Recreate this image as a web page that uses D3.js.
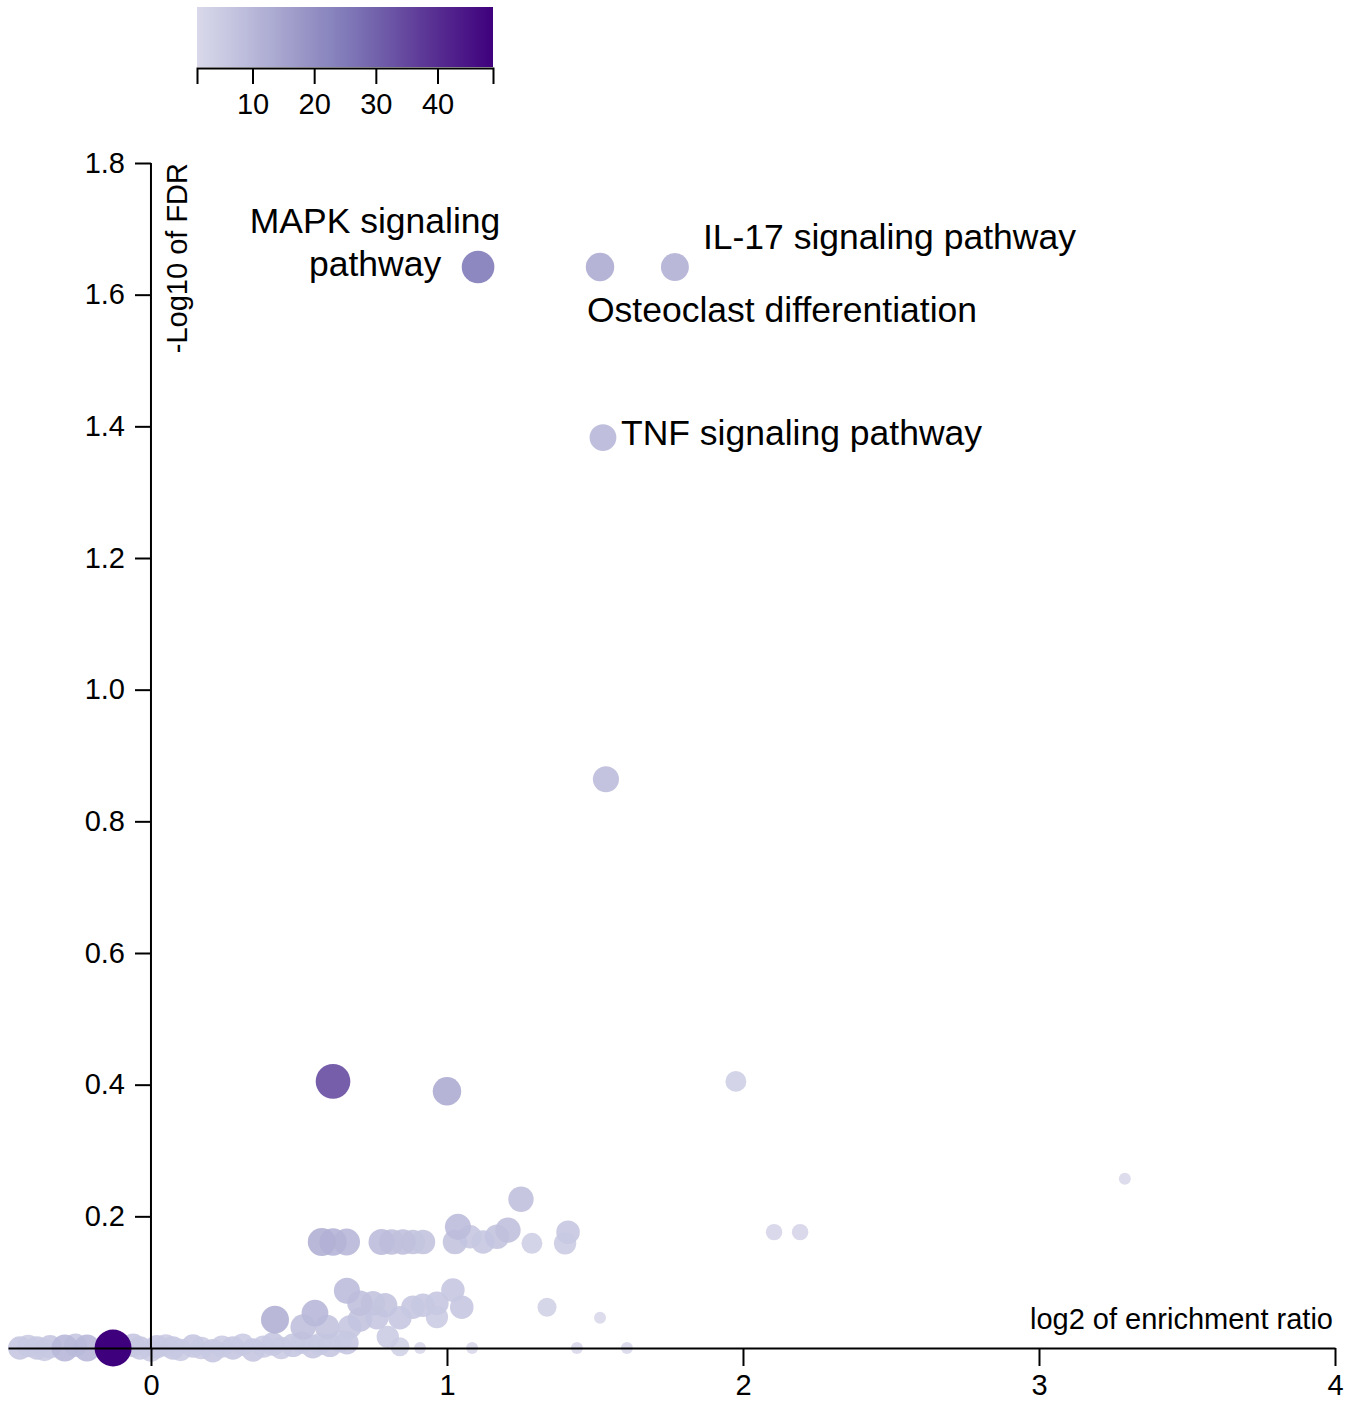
<!DOCTYPE html>
<html>
<head>
<meta charset="utf-8">
<script src="https://cdn.jsdelivr.net/npm/d3@7"></script>
<style>
  body { margin: 0; background: #fff; }
  svg text { font-family: "Liberation Sans", Arial, sans-serif; fill: #000; }
</style>
</head>
<body>
<svg id="chart"></svg>
<script>
// data: x = log2 of enrichment ratio, y = -log10 FDR, size = overlap count
const log2Ratio = [
  1.105, 1.517, 1.770, 1.527,
  1.537, 0.615, 1.000, 1.976, 3.290, 1.250, 2.105, 2.193,
  0.577, 0.615, 0.661, 0.779, 0.813, 0.851, 0.885, 0.919, 1.027, 1.037, 1.078, 1.122, 1.169, 1.206, 1.287, 1.409, 1.399,
  0.419, 0.554, 0.514, 0.595, 0.662, 0.706, 0.750, 0.791, 0.706, 0.763, 0.672, 0.841, 0.885, 0.919, 0.966, 0.966, 1.020, 1.050,
  0.800, 0.841, 0.909, 1.085, 1.338, 1.517, 1.439, 1.608,
  -0.443, -0.415, -0.385, -0.360, -0.341, -0.291, -0.255, -0.216, -0.128, -0.060, -0.037, 0.000, 0.020, 0.050, 0.074, 0.100,
  0.142, 0.170, 0.209, 0.240, 0.277, 0.310, 0.345, 0.380, 0.412, 0.440, 0.480, 0.510, 0.547, 0.570, 0.605, 0.640, 0.662
];
const negLog10FDR = [
  1.642, 1.642, 1.642, 1.383,
  0.864, 0.405, 0.390, 0.405, 0.257, 0.226, 0.176, 0.176,
  0.161, 0.161, 0.161, 0.161, 0.161, 0.161, 0.161, 0.161, 0.161, 0.184, 0.169, 0.161, 0.169, 0.179, 0.159, 0.176, 0.159,
  0.043, 0.053, 0.032, 0.032, 0.087, 0.068, 0.068, 0.065, 0.043, 0.046, 0.032, 0.046, 0.062, 0.065, 0.068, 0.047, 0.088, 0.062,
  0.017, 0.002, 0.000, 0.000, 0.062, 0.046, 0.000, 0.000,
  0.000, 0.003, 0.000, -0.003, 0.002, 0.000, 0.004, 0.000, 0.000, 0.004, 0.000, -0.004, 0.002, 0.004, 0.000, -0.003,
  0.003, 0.000, -0.004, 0.002, 0.000, 0.005, -0.003, 0.002, 0.006, 0.000, 0.004, 0.008, 0.002, 0.006, 0.004, 0.010, 0.008
];
const geneCount = [
  25, 13, 12, 10,
  9, 34, 13, 4, 1, 8, 2, 2,
  12, 11, 10, 9, 8, 8, 7, 7, 7, 9, 6, 6, 7, 8, 4, 6, 5,
  12, 10, 8, 7, 9, 8, 7, 7, 7, 6, 6, 6, 6, 6, 6, 5, 6, 6,
  5, 3, 1, 1, 3, 1, 1, 1,
  6, 5, 6, 5, 6, 10, 6, 10, 49, 6, 6, 5, 6, 5, 6, 5,
  6, 5, 6, 5, 6, 5, 6, 5, 6, 5, 6, 5, 6, 5, 6, 5, 6
];
const pathwayNames = ["MAPK signaling pathway", "Osteoclast differentiation", "IL-17 signaling pathway", "TNF signaling pathway"];
const xTicks = [0, 1, 2, 3, 4];
const yTicks = [0.2, 0.4, 0.6, 0.8, 1.0, 1.2, 1.4, 1.6, 1.8];
const colorTicks = [10, 20, 30, 40];
const countRange = [1, 49];

const W = 1361, H = 1402;
const svg = d3.select("#chart").attr("width", W).attr("height", H);

const x = d3.scaleLinear().domain([-0.483, 4]).range([8, 1335]);
const y = d3.scaleLinear().domain([0, 1.8]).range([1348, 163]);
const color = d3.scaleSequential(t => d3.interpolatePurples(0.25 + 0.75 * t)).domain(countRange);
const radius = d3.scaleLog().domain(countRange).range([6, 18.5]);

// colour legend
const legX = d3.scaleLinear().domain(countRange).range([197, 493]);
const grad = svg.append("defs").append("linearGradient").attr("id", "legGrad");
d3.range(0, 1.0001, 0.05).forEach(t => {
  grad.append("stop").attr("offset", t).attr("stop-color", color(countRange[0] + t * (countRange[1] - countRange[0])));
});
svg.append("rect").attr("x", legX.range()[0]).attr("y", 7)
  .attr("width", legX.range()[1] - legX.range()[0]).attr("height", 60)
  .attr("fill", "url(#legGrad)");
const legAxis = svg.append("g").attr("transform", "translate(0,68)")
  .call(d3.axisBottom(legX).tickValues(colorTicks).tickSize(16).tickSizeOuter(16).tickPadding(9));

// points
const pts = log2Ratio.map((v, i) => ({x: v, y: negLog10FDR[i], n: geneCount[i], i}));
svg.append("g").selectAll("circle")
  .data(pts.slice().sort((a, b) => a.n - b.n))
  .join("circle")
  .attr("cx", d => x(d.x)).attr("cy", d => y(d.y))
  .attr("r", d => radius(d.n))
  .attr("fill", d => color(d.n))
  .attr("fill-opacity", d => d.n > 40 ? 1 : 0.9);

// axes
const xAxis = svg.append("g").attr("transform", `translate(0,${y(0)})`)
  .call(d3.axisBottom(x).tickValues(xTicks).tickSize(18).tickSizeOuter(0).tickPadding(8).tickFormat(d3.format("d")));
const yAxis = svg.append("g").attr("transform", `translate(${x(0)},0)`)
  .call(d3.axisLeft(y).tickValues(yTicks).tickSize(16).tickSizeOuter(0).tickPadding(10).tickFormat(d3.format(".1f")));

[xAxis, yAxis, legAxis].forEach(g => {
  g.selectAll("path, line").attr("stroke", "#000").attr("stroke-width", 2);
  g.selectAll("text").attr("font-size", 29).attr("font-family", "Liberation Sans, Arial, sans-serif").attr("fill", "#000");
});
yAxis.select(".domain").attr("d", `M0,${y(1.8)}V${y(0)}`);

svg.append("text").attr("transform", `translate(187,${y(1.8)}) rotate(-90)`)
  .attr("text-anchor", "end").attr("font-size", 29).text("-Log10 of FDR");
svg.append("text").attr("x", x(4) - 2).attr("y", 1329)
  .attr("text-anchor", "end").attr("font-size", 29).text("log2 of enrichment ratio");

// pathway labels placed next to their points
const labelLayout = [
  {lines: ["MAPK signaling", "pathway"], anchor: "middle", dx: -103, dy: [-34, 9]},
  {lines: ["Osteoclast differentiation"], anchor: "start", dx: -13, dy: [55]},
  {lines: ["IL-17 signaling pathway"], anchor: "start", dx: 28, dy: [-18]},
  {lines: ["TNF signaling pathway"], anchor: "start", dx: 18, dy: [7]}
];
pathwayNames.forEach((name, i) => {
  const L = labelLayout[i];
  const px = x(log2Ratio[i]), py = y(negLog10FDR[i]);
  L.lines.forEach((line, k) => {
    svg.append("text").attr("x", px + L.dx).attr("y", py + L.dy[k])
      .attr("text-anchor", L.anchor).attr("font-size", 35.5).text(line);
  });
});
</script>
</body>
</html>
